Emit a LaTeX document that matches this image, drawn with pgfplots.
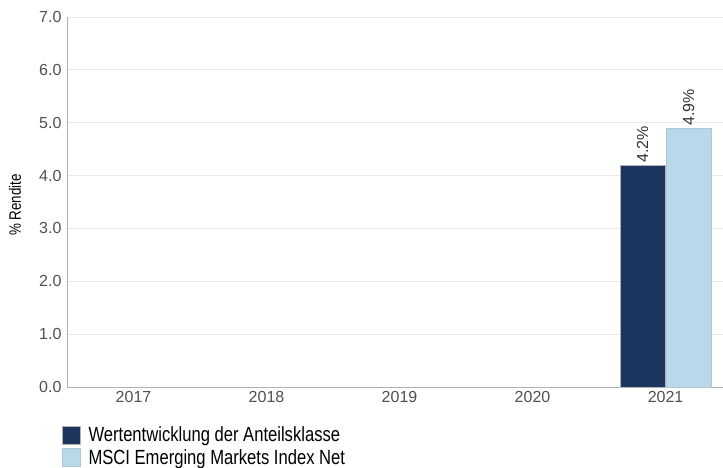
\documentclass[border=0pt]{standalone}
\usepackage{fontspec}
\setmainfont{Liberation Sans}
\newfontfamily\condfont[FakeStretch=0.81]{Liberation Sans}
\usepackage{pgfplots}
\pgfplotsset{compat=1.18}
\definecolor{navy}{HTML}{1C355E}
\definecolor{lightblue}{HTML}{B9D9EB}
\definecolor{ticktext}{HTML}{505050}
\definecolor{gridc}{HTML}{E8E8E8}
\definecolor{axisc}{HTML}{B0B0B0}
\begin{document}
\begin{tikzpicture}[x=1bp,y=1bp]
\path[use as bounding box] (0,0) rectangle (723,468);
\node[rotate=90, font=\condfont\fontsize{16.5bp}{18bp}\selectfont, text=black] at (15,263) {\% Rendite};
\begin{axis}[
  at={(67bp,81bp)}, anchor=south west,
  scale only axis, width=656bp, height=370bp,
  xmin=-0.5, xmax=4.432, ymin=0, ymax=7,
  ybar=1bp, bar width=45bp,
  xtick={0,1,2,3,4},
  xticklabels={2017,2018,2019,2020,2021},
  ytick={0,1,...,7},
  yticklabel style={/pgf/number format/fixed, /pgf/number format/fixed zerofill, /pgf/number format/precision=1, xshift=-2bp},
  /pgf/number format/assume math mode=true,
  tick label style={font=\fontsize{16bp}{18bp}\selectfont, text=ticktext},
  xticklabel style={yshift=-1bp},
  major tick length=0pt,
  ymajorgrids, grid style={gridc, line width=0.8bp},
  axis line style={axisc, line width=0.8bp},
  axis x line*=bottom, axis y line*=left,
  separate axis lines,
  x axis line style={-}, y axis line style={-},
  nodes near coords={\pgfmathprintnumber[fixed,fixed zerofill,precision=1]{\pgfplotspointmeta}\%},
  nodes near coords style={rotate=90, anchor=west, font=\fontsize{16bp}{18bp}\selectfont, text=black!80, inner sep=2bp},
  legend style={at={(-0.0076,-0.103)}, anchor=north west, draw=none, fill=none,
    font=\condfont\fontsize{20.5bp}{22bp}\selectfont, inner sep=0pt, outer sep=0pt,
    row sep=2bp, /tikz/every even column/.style={column sep=0pt}},
  legend cell align=left,
  legend image code/.code={\fill[#1] (0bp,-9bp) rectangle (18bp,9bp); \path (24bp,0bp);},
  clip=false,
]
\addplot[fill=navy, draw=gray!60, line width=0.5bp] coordinates {(4,4.2)};
\addplot[fill=lightblue, draw=lightblue!80!gray, line width=0.5bp] coordinates {(4,4.9)};
\legend{Wertentwicklung der Anteilsklasse, MSCI Emerging Markets Index Net}
\end{axis}
\end{tikzpicture}
\end{document}
